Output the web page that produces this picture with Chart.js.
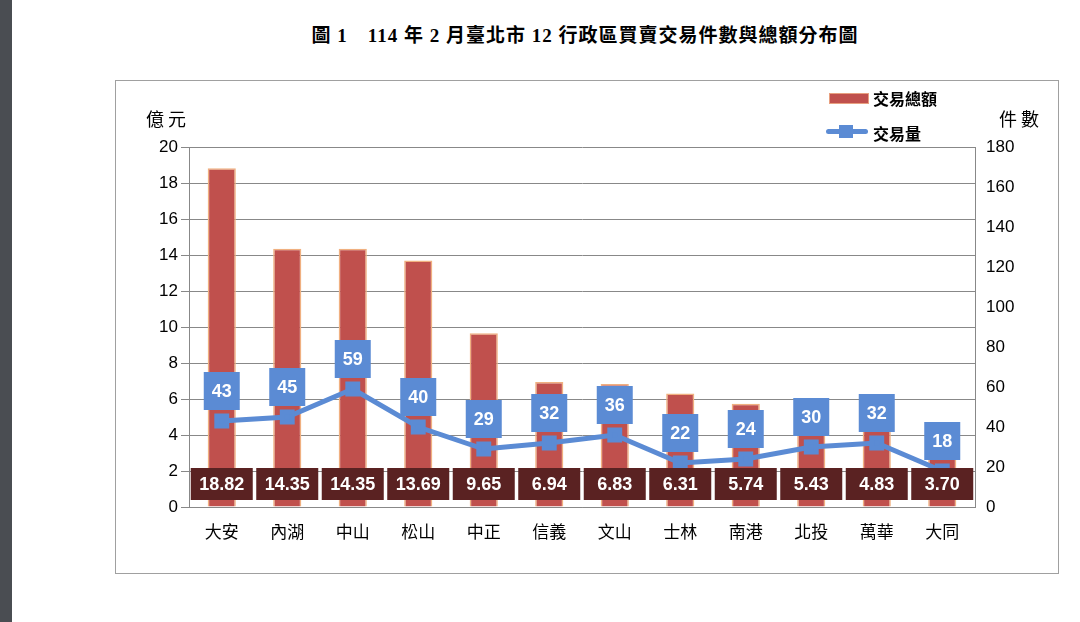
<!DOCTYPE html>
<html><head><meta charset="utf-8">
<script src="https://cdn.jsdelivr.net/npm/chart.js@4"></script>
<style>
body{margin:0;width:1080px;height:622px;background:#fff;position:relative;overflow:hidden;font-family:"Liberation Sans","Noto Sans CJK TC",sans-serif}
#strip{position:absolute;left:0;top:0;width:12px;height:622px;background:#4a4d52}
#title{position:absolute;left:0;width:1170px;top:20px;text-align:center;font:bold 19px "Liberation Serif","Noto Sans CJK TC",serif;letter-spacing:1px}
#box{position:absolute;left:115px;top:80px;width:942px;height:492px;border:1px solid #a0a0a0}
.t{position:absolute;font:18px "Noto Sans CJK TC",sans-serif;color:#000}
</style></head><body>
<div id="strip"></div>
<div id="title">圖 1　114 年 2 月臺北市 12 行政區買賣交易件數與總額分布圖</div>
<div id="box"><canvas id="c" width="942" height="492"></canvas>
<div class="t" style="left:30px;top:24px">億 元</div>
<div class="t" style="left:883px;top:24px">件 數</div>
<div style="position:absolute;left:713px;top:12px;width:38px;height:9px;background:#c0504d;border:1px solid #e8a080"></div>
<div class="t" style="left:757px;top:5px;font-weight:bold;font-size:16px">交易總額</div>
<div style="position:absolute;left:710px;top:48px;width:42px;height:5px;background:#5b8bd4;border-radius:3px"></div>
<div style="position:absolute;left:723px;top:44px;width:14px;height:13px;background:#5b8bd4"></div>
<div class="t" style="left:757px;top:40px;font-weight:bold;font-size:16px">交易量</div>
</div>
<script>
const districts=["大安","內湖","中山","松山","中正","信義","文山","士林","南港","北投","萬華","大同"];
const amounts=[18.82,14.35,14.35,13.69,9.65,6.94,6.83,6.31,5.74,5.43,4.83,3.70];
const counts=[43,45,59,40,29,32,36,22,24,30,32,18];
const amountLabels=["18.82","14.35","14.35","13.69","9.65","6.94","6.83","6.31","5.74","5.43","4.83","3.70"];

const labelPlugin={id:'lbl',afterDatasetsDraw(ch){
 const ctx=ch.ctx;ctx.save();ctx.textAlign='center';ctx.textBaseline='middle';
 ctx.font='bold 18px "Liberation Sans",sans-serif';
 const yb=ch.scales.y.getPixelForValue(0);
 ch.getDatasetMeta(0).data.forEach((b,i)=>{
  ctx.fillStyle='#5a2222';ctx.fillRect(b.x-31,yb-39,62,32);
  ctx.fillStyle='#fff';ctx.fillText(amountLabels[i],b.x,yb-22);
 });
 ch.getDatasetMeta(1).data.forEach((p,i)=>{
  ctx.fillStyle='#5b8bd4';ctx.fillRect(p.x-18,p.y-49,36,38);
  ctx.fillStyle='#fff';ctx.fillText(String(counts[i]),p.x,p.y-29);
 });
 ctx.restore();}};

new Chart(document.getElementById('c'),{
 data:{labels:districts,datasets:[
  {type:'bar',data:amounts,yAxisID:'y',backgroundColor:'#c0504d',borderColor:'#f0b080',borderWidth:1.5,barPercentage:0.43,categoryPercentage:1,order:2},
  {type:'line',data:counts,yAxisID:'y2',borderColor:'#5b8bd4',borderWidth:5,pointStyle:'rect',pointRadius:7,pointBackgroundColor:'#5b8bd4',pointBorderColor:'#5b8bd4',order:1}
 ]},
 options:{responsive:false,animation:false,
  layout:{padding:{top:66,left:0,right:0,bottom:0}},
  plugins:{legend:{display:false},tooltip:{enabled:false}},
  scales:{
   x:{grid:{display:false},border:{color:'#888'},ticks:{font:{size:17,family:'"Noto Sans CJK TC"'},color:'#000',padding:6},afterFit(s){s.height=66;}},
   y:{min:0,max:20,ticks:{stepSize:2,font:{size:17},color:'#000'},grid:{color:'#888',tickLength:8},border:{color:'#888'},afterFit(s){s.width=73;}},
   y2:{position:'right',min:0,max:180,ticks:{stepSize:20,font:{size:17},color:'#000'},grid:{display:false,drawOnChartArea:false},border:{color:'#888'},afterFit(s){s.width=83;}}
  }},
 plugins:[labelPlugin]});
</script></body></html>
